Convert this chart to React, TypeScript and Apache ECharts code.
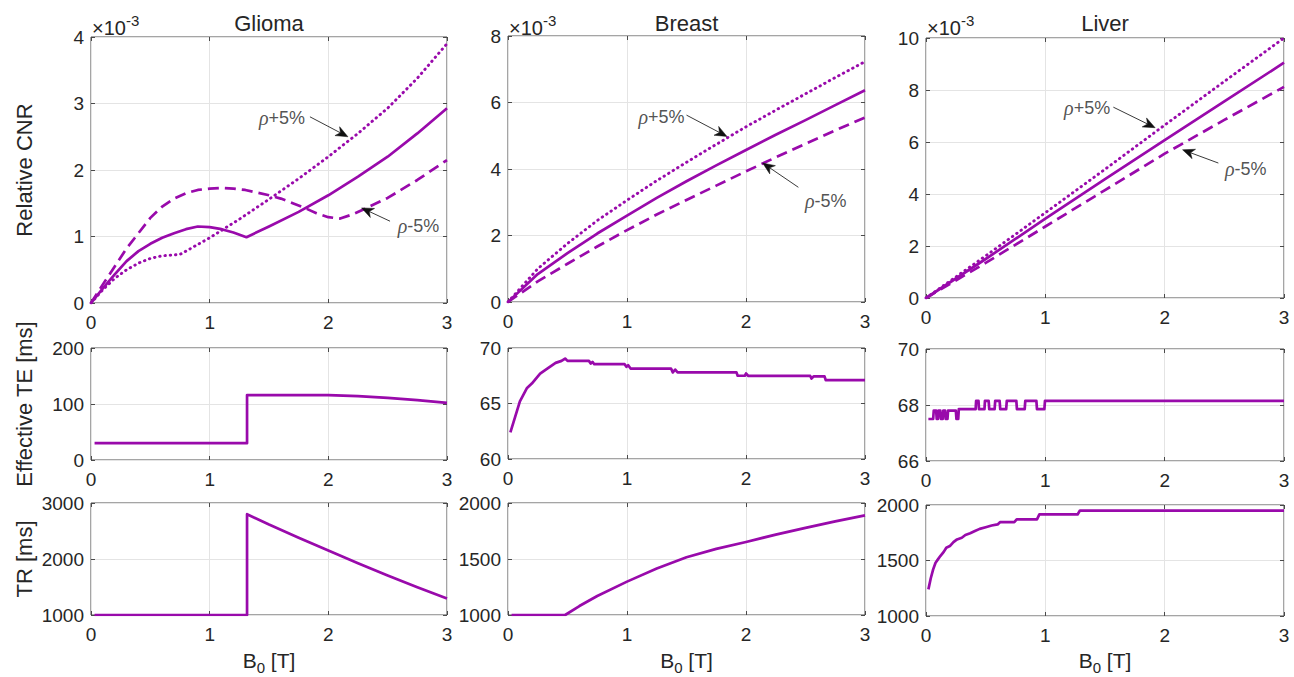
import { useEffect, useRef } from "react";
import * as echarts from "echarts";

// ---------- data ----------
const X_TICKS = [0, 1, 2, 3];
const TITLES = ["Glioma", "Breast", "Liver"];
const ROW_LABELS = ["Relative CNR", "Effective TE [ms]", "TR [ms]"];
const NOTE_PLUS = "ρ+5%";
const NOTE_MINUS = "ρ-5%";

// Relative CNR, in units of 1e-3
const gliomaCnr = [[0,0],[0.1,0.22],[0.2,0.43],[0.3,0.63],[0.4,0.78],[0.5,0.89],[0.6,0.98],[0.7,1.05],[0.8,1.11],[0.9,1.15],[1.0,1.14],[1.1,1.11],[1.2,1.06],[1.31,0.99],[1.5,1.15],[1.75,1.37],[2.0,1.62],[2.25,1.9],[2.5,2.2],[2.75,2.55],[3.0,2.93]];
const gliomaCnrPlus = [[0,0],[0.1,0.2],[0.2,0.37],[0.3,0.5],[0.4,0.6],[0.5,0.67],[0.6,0.71],[0.75,0.73],[0.85,0.83],[1.0,0.98],[1.25,1.26],[1.5,1.56],[1.75,1.87],[2.0,2.2],[2.25,2.55],[2.5,2.93],[2.75,3.38],[3.0,3.9]];
const gliomaCnrMinus = [[0,0],[0.1,0.28],[0.2,0.55],[0.3,0.82],[0.4,1.05],[0.5,1.28],[0.6,1.45],[0.7,1.57],[0.8,1.65],[0.9,1.7],[1.0,1.72],[1.1,1.73],[1.2,1.72],[1.3,1.7],[1.4,1.66],[1.5,1.62],[1.6,1.57],[1.7,1.5],[1.8,1.43],[1.9,1.35],[2.0,1.29],[2.1,1.27],[2.2,1.33],[2.3,1.41],[2.5,1.58],[2.75,1.85],[3.0,2.15]];

const breastCnr = [[0,0],[0.25,0.84],[0.5,1.47],[0.75,2.06],[1.0,2.6],[1.25,3.13],[1.5,3.63],[1.75,4.11],[2.0,4.57],[2.25,5.03],[2.5,5.47],[2.75,5.92],[3.0,6.37]];
const breastCnrPlus = [[0,0],[0.25,1.0],[0.5,1.76],[0.75,2.45],[1.0,3.06],[1.25,3.65],[1.5,4.2],[1.75,4.74],[2.0,5.27],[2.25,5.77],[2.5,6.26],[2.75,6.75],[3.0,7.23]];
const breastCnrMinus = [[0,0],[0.25,0.62],[0.5,1.15],[0.75,1.67],[1.0,2.16],[1.25,2.63],[1.5,3.07],[1.75,3.5],[2.0,3.93],[2.25,4.35],[2.5,4.76],[2.75,5.16],[3.0,5.55]];

const liverCnr = [[0,0],[0.5,1.5],[1.0,3.05],[1.5,4.57],[2.0,6.07],[2.5,7.56],[3.0,9.05]];
const liverCnrPlus = [[0,0],[0.5,1.62],[1.0,3.28],[1.5,4.95],[2.0,6.65],[2.5,8.33],[3.0,10.0]];
const liverCnrMinus = [[0,0],[0.5,1.35],[1.0,2.75],[1.5,4.15],[2.0,5.55],[2.5,6.85],[3.0,8.12]];

// Effective TE [ms]
const gliomaTE = [[0.03,30],[1.315,30],[1.315,116],[2.0,116],[2.25,114],[2.5,111],[2.75,107],[3.0,102]];
const breastTE = [[0.02,62.4],[0.06,63.8],[0.1,65.2],[0.16,66.4],[0.2,66.8],[0.27,67.7],[0.33,68.15],[0.4,68.66],[0.45,68.84],[0.48,69.05],[0.5,68.84],[0.68,68.84],[0.695,68.6],[0.71,68.75],[0.725,68.54],[0.98,68.54],[0.995,68.3],[1.01,68.45],[1.03,68.15],[1.37,68.15],[1.385,67.8],[1.405,68.05],[1.425,67.8],[1.92,67.8],[1.93,67.5],[1.99,67.5],[2.0,67.7],[2.02,67.48],[2.54,67.48],[2.55,67.25],[2.57,67.45],[2.66,67.45],[2.67,67.1],[3.0,67.1]];
const liverTE = [[0.02,67.5],[0.06,67.5],[0.065,67.8],[0.085,67.8],[0.09,67.5],[0.1,67.5],[0.105,67.8],[0.12,67.8],[0.125,67.5],[0.14,67.5],[0.145,67.8],[0.16,67.8],[0.165,67.5],[0.18,67.5],[0.185,67.8],[0.25,67.8],[0.255,67.5],[0.27,67.5],[0.275,67.85],[0.416,67.85],[0.42,68.15],[0.44,68.15],[0.444,67.85],[0.49,67.85],[0.494,68.15],[0.525,68.15],[0.53,67.85],[0.575,67.85],[0.58,68.15],[0.617,68.15],[0.622,67.85],[0.672,67.85],[0.677,68.15],[0.757,68.15],[0.762,67.85],[0.827,67.85],[0.832,68.15],[0.925,68.15],[0.93,67.85],[0.992,67.85],[0.997,68.15],[3.0,68.15]];

// TR [ms]
const gliomaTR = [[0.03,1000],[1.315,1000],[1.315,2800],[1.5,2615],[1.75,2380],[2.0,2150],[2.25,1925],[2.5,1705],[2.75,1495],[3.0,1295]];
const breastTR = [[0.03,1000],[0.48,1000],[0.6,1080],[0.75,1170],[1.0,1298],[1.25,1415],[1.5,1515],[1.75,1590],[2.0,1652],[2.25,1718],[2.5,1778],[2.75,1836],[3.0,1890]];
const liverTR = [[0.02,1240],[0.04,1340],[0.06,1420],[0.08,1480],[0.1,1510],[0.12,1540],[0.15,1580],[0.17,1615],[0.2,1630],[0.23,1665],[0.26,1690],[0.3,1705],[0.33,1730],[0.37,1745],[0.41,1765],[0.45,1785],[0.5,1800],[0.55,1815],[0.6,1825],[0.62,1845],[0.74,1845],[0.76,1870],[0.93,1870],[0.95,1915],[1.27,1915],[1.29,1950],[3.0,1950]];

// annotation anchors (data coords): [textX, textY, arrowFromX, arrowFromY, arrowToX, arrowToY]
const gliomaPlusNote = [1.61, 2.78, 1.845, 2.8, 2.165, 2.5];
const gliomaMinusNote = [2.76, 1.16, 2.52, 1.23, 2.28, 1.43];
const breastPlusNote = [1.29, 5.56, 1.5, 5.62, 1.84, 4.98];
const breastMinusNote = [2.67, 3.03, 2.44, 3.45, 2.14, 4.18];
const liverPlusNote = [1.35, 7.3, 1.57, 7.34, 1.92, 6.55];
const liverMinusNote = [2.68, 4.96, 2.45, 5.19, 2.15, 5.7];

// y axis ranges [min, max, interval]
const gliomaY = [[0, 4, 1], [0, 200, 100], [1000, 3000, 1000]];
const breastY = [[0, 8, 2], [60, 70, 5], [1000, 2000, 500]];
const liverY = [[0, 10, 2], [66, 70, 2], [1000, 2000, 500]];

// ---------- layout / style ----------
const COLOR = "#990aab";
const FONT = "'Liberation Sans', Arial, Helvetica, sans-serif";
const TEXT = "#262626";
const BOX = "#4a4a4a";
const COL_X = [
  { left: 91, width: 356 },
  { left: 508, width: 357 },
  { left: 926, width: 358 },
];
const ROW_Y = [
  [{ top: 37, height: 266 }, { top: 348, height: 112 }, { top: 503, height: 112 }],
  [{ top: 36, height: 266 }, { top: 348, height: 111 }, { top: 503, height: 112 }],
  [{ top: 38, height: 260 }, { top: 349, height: 112 }, { top: 505, height: 111 }],
];

const DASH_SOLID: any = "solid";
const DASH_DOTTED = [0.5, 4.8];
const DASH_DASHED = [11, 6];

function arrowItem(params: any, api: any) {
  const p0 = api.coord([api.value(0), api.value(1)]);
  const p1 = api.coord([api.value(2), api.value(3)]);
  const dx = p1[0] - p0[0];
  const dy = p1[1] - p0[1];
  const len = Math.sqrt(dx * dx + dy * dy) || 1;
  const ux = dx / len;
  const uy = dy / len;
  const nx = -uy;
  const ny = ux;
  const L = 12;
  const W = 5;
  const bx = p1[0] - ux * L;
  const by = p1[1] - uy * L;
  const notchX = p1[0] - ux * (L - 3.5);
  const notchY = p1[1] - uy * (L - 3.5);
  return {
    type: "group",
    children: [
      { type: "line", shape: { x1: p0[0], y1: p0[1], x2: notchX, y2: notchY }, style: { stroke: "#3a3a3a", lineWidth: 1 } },
      {
        type: "polygon",
        shape: { points: [[p1[0], p1[1]], [bx + nx * W, by + ny * W], [notchX, notchY], [bx - nx * W, by - ny * W]] },
        style: { fill: "#111", stroke: "#111", lineWidth: 0.5 },
      },
    ],
  };
}

function buildOption() {
  const cols = [
    { cnr: [gliomaCnr, gliomaCnrPlus, gliomaCnrMinus], te: gliomaTE, tr: gliomaTR, y: gliomaY, notes: [gliomaPlusNote, gliomaMinusNote] },
    { cnr: [breastCnr, breastCnrPlus, breastCnrMinus], te: breastTE, tr: breastTR, y: breastY, notes: [breastPlusNote, breastMinusNote] },
    { cnr: [liverCnr, liverCnrPlus, liverCnrMinus], te: liverTE, tr: liverTR, y: liverY, notes: [liverPlusNote, liverMinusNote] },
  ];
  const grid: any[] = [];
  const xAxis: any[] = [];
  const yAxis: any[] = [];
  const series: any[] = [];
  const graphic: any[] = [];

  const tick = { show: true, inside: true, length: 4, lineStyle: { color: BOX, width: 1 } };
  const label = { fontSize: 19, color: TEXT, fontFamily: FONT, formatter: (v: number) => String(v) };

  cols.forEach((c, ci) => {
    for (let ri = 0; ri < 3; ri++) {
      const gi = grid.length;
      const g = ROW_Y[ci][ri];
      grid.push({
        left: COL_X[ci].left, width: COL_X[ci].width, top: g.top, height: g.height,
        show: true, borderColor: BOX, borderWidth: 1, backgroundColor: "#fff",
      });
      const [ymin, ymax, yint] = c.y[ri];
      xAxis.push({
        type: "value", gridIndex: gi, min: X_TICKS[0], max: X_TICKS[X_TICKS.length - 1], interval: 1,
        axisLine: { show: false, onZero: false }, axisTick: tick,
        axisLabel: { ...label, margin: 10 },
        splitLine: { show: true, lineStyle: { color: "#e4e4e4", width: 1 } },
      });
      xAxis.push({
        type: "value", gridIndex: gi, position: "top", min: X_TICKS[0], max: X_TICKS[X_TICKS.length - 1], interval: 1,
        axisLine: { show: false, onZero: false }, axisTick: tick, axisLabel: { show: false }, splitLine: { show: false },
      });
      yAxis.push({
        type: "value", gridIndex: gi, min: ymin, max: ymax, interval: yint,
        axisLine: { show: false, onZero: false }, axisTick: tick,
        axisLabel: { ...label, margin: 7 },
        splitLine: { show: true, lineStyle: { color: "#e4e4e4", width: 1 } },
      });
      yAxis.push({
        type: "value", gridIndex: gi, position: "right", min: ymin, max: ymax, interval: yint,
        axisLine: { show: false, onZero: false }, axisTick: tick, axisLabel: { show: false }, splitLine: { show: false },
      });
      const xi = gi * 2;
      const yi = gi * 2;
      const mk = (data: number[][], dash: any) => ({
        type: "line", xAxisIndex: xi, yAxisIndex: yi, data, symbol: "none", showSymbol: false,
        silent: true, z: 3,
        lineStyle: { color: COLOR, width: dash === DASH_DOTTED ? 2.9 : 2.7, type: dash, cap: dash === DASH_DOTTED ? "round" : "butt", join: "round" },
      });
      if (ri === 0) {
        const [solid, plus, minus] = c.cnr;
        series.push(mk(solid, DASH_SOLID));
        series.push(mk(plus, DASH_DOTTED));
        series.push(mk(minus, DASH_DASHED));
        const [pn, mn] = c.notes;
        series.push({
          type: "scatter", xAxisIndex: xi, yAxisIndex: yi, symbolSize: 1, silent: true, z: 5,
          itemStyle: { color: "rgba(0,0,0,0)" },
          data: [
            { value: [pn[0], pn[1]], name: NOTE_PLUS },
            { value: [mn[0], mn[1]], name: NOTE_MINUS },
          ],
          label: {
            show: true, position: "inside", color: TEXT, fontFamily: FONT, fontSize: 18,
            formatter: (p: any) => "{r|ρ}" + String(p.name).slice(1),
            rich: { r: { fontFamily: "'Liberation Serif', 'DejaVu Serif', serif", fontStyle: "italic", fontSize: 20, color: TEXT } },
          },
        });
        series.push({
          type: "custom", xAxisIndex: xi, yAxisIndex: yi, silent: true, z: 6, clip: false,
          renderItem: arrowItem,
          data: [
            [pn[2], pn[3], pn[4], pn[5]],
            [mn[2], mn[3], mn[4], mn[5]],
          ],
        });
      } else if (ri === 1) {
        series.push(mk(c.te, DASH_SOLID));
      } else {
        series.push(mk(c.tr, DASH_SOLID));
      }
    }
    // column title
    const cx = COL_X[ci].left + COL_X[ci].width / 2;
    graphic.push({
      type: "text", x: cx, y: 23,
      style: { text: TITLES[ci], fontSize: 22, fontFamily: FONT, fill: TEXT, align: "center", verticalAlign: "middle" },
    });
    // exponent
    graphic.push({
      type: "text", x: COL_X[ci].left + 1, y: 13,
      style: {
        text: "{m|×10}{s|-3}", align: "left", verticalAlign: "top", fill: TEXT, fontFamily: FONT,
        rich: {
          m: { fontSize: 20, lineHeight: 30, fontFamily: FONT, fill: TEXT },
          s: { fontSize: 15, lineHeight: 15, verticalAlign: "top", fontFamily: FONT, fill: TEXT },
        },
      },
    });
    // x axis name
    graphic.push({
      type: "text", x: cx, y: 645,
      style: {
        text: "{m|B}{s|0}{m| [T]}", align: "center", verticalAlign: "top", fill: TEXT, fontFamily: FONT,
        rich: {
          m: { fontSize: 21, lineHeight: 30, fontFamily: FONT, fill: TEXT },
          s: { fontSize: 15, lineHeight: 15, verticalAlign: "bottom", fontFamily: FONT, fill: TEXT },
        },
      },
    });
  });

  // row labels
  ROW_LABELS.forEach((t, ri) => {
    const g = ROW_Y[0][ri];
    graphic.push({
      type: "text", x: 24, y: g.top + g.height / 2, rotation: Math.PI / 2,
      style: { text: t, fontSize: 22, fontFamily: FONT, fill: TEXT, align: "center", verticalAlign: "middle" },
    });
  });

  return { animation: false, backgroundColor: "#fff", grid, xAxis, yAxis, series, graphic };
}

export default function App() {
  const ref = useRef<HTMLDivElement>(null);
  useEffect(() => {
    if (!ref.current) return;
    const chart = echarts.init(ref.current, undefined, { renderer: "svg" });
    chart.setOption(buildOption() as any);
    return () => chart.dispose();
  }, []);
  return <div ref={ref} style={{ position: "absolute", left: 0, top: 0, width: 1294, height: 677 }} />;
}
